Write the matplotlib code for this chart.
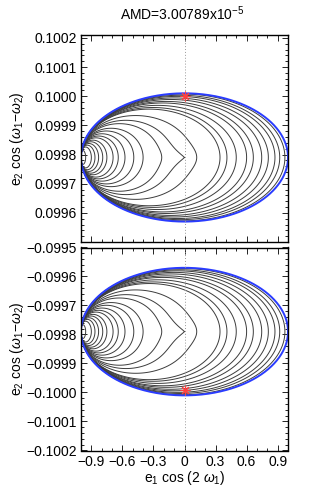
import numpy as np
import matplotlib
matplotlib.use('Agg')
import matplotlib.pyplot as plt
from matplotlib.ticker import MultipleLocator, FixedLocator, FuncFormatter

plt.rcParams['font.family'] = ['Liberation Sans', 'DejaVu Sans']
plt.rcParams['mathtext.fontset'] = 'custom'
plt.rcParams['mathtext.rm'] = 'Liberation Sans'
plt.rcParams['mathtext.it'] = 'Liberation Sans:italic'
plt.rcParams['font.size'] = 10

# Borde de la region accesible (panel superior, el inferior es su espejo)
e2_centre = 0.09979
e2_half = 0.00022
star_x = 0.0
star_top = 0.10000
star_bottom = -0.09999

# Cortes de las curvas de nivel con la linea central (x = e1 cos 2w1)
cross_centre = [-0.955, -0.90, -0.865, -0.83, -0.79, -0.75, -0.69, -0.64,
                -0.575, -0.49, -0.40, -0.22, 0.0, 0.118, 0.343, 0.41,
                0.50, 0.60, 0.665, 0.746, 0.81, 0.874, 0.92, 0.97]

top_ticks = [0.0996, 0.0997, 0.0998, 0.0999, 0.1000, 0.1001, 0.1002]
bottom_ticks = [-0.1002, -0.1001, -0.1000, -0.0999, -0.0998, -0.0997, -0.0996, -0.0995]
x_ticks = [-0.9, -0.6, -0.3, 0, 0.3, 0.6, 0.9]

# Modelo del hamiltoniano en coordenadas normalizadas (u, v) dentro del disco
p_s, g_cone, r_cone = 0.7, 0.39, 0.35


def field(u, v):
    r2 = u**2 + v**2
    w = np.sqrt(np.clip(1 - r2, 1e-12, None))
    r = np.sqrt(r2)
    return (u + 1)**p_s/w + g_cone*r/(1 + r2/r_cone**2)


n = 1401
uu = np.linspace(-1, 1, n)
U, V = np.meshgrid(uu, uu)
F = field(U, V)
F = np.where(U**2 + V**2 < 1, F, np.nan)

levels = np.unique(np.round([field(c, 0.0) for c in cross_centre], 8))

t = np.linspace(0, 2*np.pi, 600)
fmt = FuncFormatter(lambda y, p: ('%.4f' % y).replace('-', '\u2212'))
xfmt = FuncFormatter(lambda x, p: ('%g' % round(x, 1)).replace('-', '\u2212'))

fig = plt.figure(figsize=(3.16, 4.87), dpi=100)
ax1 = fig.add_axes([81/316, 1-242/487, 207/316, 207/487])
ax2 = fig.add_axes([81/316, 1-450.5/487, 207/316, 203/487])

for ax, sgn, star_y in [(ax1, 1, star_top), (ax2, -1, star_bottom)]:
    Y = sgn*(e2_centre + e2_half*V)
    ax.contour(U, Y, F, levels=levels, colors='#3c3c3c', linewidths=0.7,
               negative_linestyles='solid')
    ax.plot(np.cos(t), sgn*(e2_centre + e2_half*np.sin(t)), color='#2a3cff', lw=1.4)
    ax.axvline(0, color='#999999', lw=0.7, ls=(0, (1, 2)))
    ax.plot([star_x], [star_y], marker=(8, 2, 0), ms=7, mew=0.8, color='#ff4040', ls='none')
    ax.set_xlim(-1, 1)
    ax.xaxis.set_major_locator(FixedLocator(x_ticks))
    ax.xaxis.set_minor_locator(MultipleLocator(0.1))
    ax.yaxis.set_minor_locator(MultipleLocator(0.00002))
    ax.yaxis.set_major_formatter(fmt)
    ax.tick_params(which='both', direction='in', top=True, right=True, width=0.6)
    ax.tick_params(which='major', length=4, pad=3, labelsize=10)
    ax.tick_params(which='minor', length=2)
    for s in ax.spines.values():
        s.set_linewidth(1.0)
    ax.set_ylabel(r'e$_2$ cos ($\omega_1$$-$$\omega_2$)', fontsize=10)
    ax.yaxis.set_label_coords(-0.266, 0.5)

ax1.set_ylim(0.0995, 0.10021)
ax1.yaxis.set_major_locator(FixedLocator(top_ticks))
ax1.set_xticklabels([])
ax2.set_ylim(-0.1002, -0.0995)
ax2.yaxis.set_major_locator(FixedLocator(bottom_ticks))
ax2.xaxis.set_major_formatter(xfmt)
ax2.set_xlabel(r'e$_1$ cos (2 $\omega_1$)', fontsize=10)
ax2.xaxis.set_label_coords(0.5, -0.09)

fig.text(0.578, 1 - 14/487, r'AMD=3.00789x10$^{-5}$', ha='center', va='center', fontsize=10)

fig.savefig('out.png', dpi=100)
